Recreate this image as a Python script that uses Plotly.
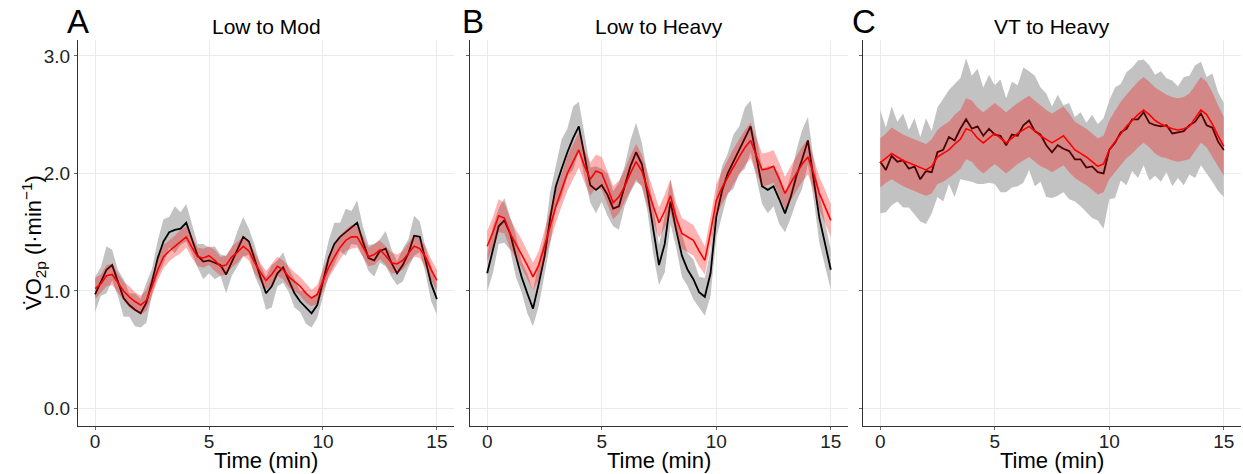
import plotly.graph_objects as go

# ---------------- data ----------------
time_min = [0.0, 0.25, 0.5, 0.75, 1.0, 1.25, 1.5, 1.75, 2.0, 2.25,
            2.5, 2.75, 3.0, 3.25, 3.5, 3.75, 4.0, 4.25, 4.5, 4.75,
            5.0, 5.25, 5.5, 5.75, 6.0, 6.25, 6.5, 6.75, 7.0, 7.25,
            7.5, 7.75, 8.0, 8.25, 8.5, 8.75, 9.0, 9.25, 9.5, 9.75,
            10.0, 10.25, 10.5, 10.75, 11.0, 11.25, 11.5, 11.75, 12.0, 12.25,
            12.5, 12.75, 13.0, 13.25, 13.5, 13.75, 14.0, 14.25, 14.5, 14.75,
            15.0]

# Panel A: Low to Mod
meas_A = [0.97, 1.08, 1.18, 1.22, 1.07, 0.94, 0.88, 0.84, 0.81, 0.90,
          1.08, 1.28, 1.42, 1.50, 1.52, 1.53, 1.58, 1.44, 1.30, 1.25,
          1.26, 1.24, 1.22, 1.14, 1.25, 1.36, 1.46, 1.42, 1.26, 1.12,
          0.98, 1.04, 1.15, 1.20, 1.09, 0.98, 0.91, 0.86, 0.81, 0.88,
          1.08, 1.28, 1.40, 1.46, 1.50, 1.54, 1.58, 1.42, 1.28, 1.26,
          1.34, 1.36, 1.24, 1.15, 1.22, 1.32, 1.47, 1.46, 1.26, 1.06,
          0.93]
meas_sd_A = [0.15, 0.12, 0.20, 0.13, 0.11, 0.16, 0.10, 0.14, 0.12, 0.17,
             0.11, 0.15, 0.19, 0.13, 0.20, 0.14, 0.16, 0.12, 0.10, 0.15,
             0.11, 0.14, 0.09, 0.16, 0.12, 0.15, 0.17, 0.11, 0.13, 0.10,
             0.14, 0.18, 0.11, 0.13, 0.10, 0.12, 0.09, 0.14, 0.12, 0.11,
             0.13, 0.15, 0.18, 0.12, 0.20, 0.14, 0.19, 0.13, 0.11, 0.14,
             0.10, 0.15, 0.12, 0.10, 0.14, 0.12, 0.17, 0.13, 0.11, 0.15,
             0.13]
model_A = [1.02, 1.06, 1.13, 1.14, 1.07, 1.00, 0.95, 0.91, 0.88, 0.92,
           1.04, 1.18, 1.29, 1.34, 1.38, 1.42, 1.46, 1.37, 1.29, 1.28,
           1.30, 1.26, 1.21, 1.22, 1.29, 1.33, 1.38, 1.34, 1.24, 1.16,
           1.09, 1.14, 1.21, 1.18, 1.12, 1.08, 1.04, 0.98, 0.94, 0.97,
           1.09, 1.20, 1.29, 1.37, 1.43, 1.46, 1.46, 1.38, 1.29, 1.31,
           1.35, 1.30, 1.24, 1.23, 1.26, 1.32, 1.38, 1.36, 1.29, 1.18,
           1.09]
model_sd_A = [0.09, 0.08, 0.09, 0.09, 0.08, 0.08, 0.09, 0.08, 0.08, 0.09,
              0.08, 0.09, 0.10, 0.09, 0.09, 0.10, 0.09, 0.09, 0.08, 0.08,
              0.08, 0.09, 0.08, 0.08, 0.09, 0.09, 0.08, 0.08, 0.09, 0.08,
              0.08, 0.09, 0.08, 0.08, 0.09, 0.08, 0.08, 0.08, 0.07, 0.08,
              0.09, 0.09, 0.10, 0.10, 0.09, 0.10, 0.09, 0.09, 0.08, 0.09,
              0.08, 0.08, 0.09, 0.08, 0.08, 0.09, 0.09, 0.08, 0.09, 0.09,
              0.09]

# Panel B: Low to Heavy
meas_B = [1.15, 1.35, 1.55, 1.60, 1.49, 1.30, 1.12, 0.98, 0.85, 1.06,
          1.29, 1.62, 1.89, 2.04, 2.18, 2.30, 2.40, 2.15, 1.90, 1.86,
          1.90, 1.82, 1.70, 1.72, 1.89, 2.06, 2.18, 2.08, 1.83, 1.52,
          1.22, 1.40, 1.76, 1.52, 1.30, 1.18, 1.10, 0.99, 0.95, 1.15,
          1.63, 1.85, 2.00, 2.10, 2.20, 2.30, 2.40, 2.14, 1.89, 1.86,
          1.89, 1.78, 1.66, 1.80, 1.98, 2.12, 2.28, 1.95, 1.62, 1.40,
          1.18]
meas_sd_B = [0.16, 0.20, 0.15, 0.19, 0.14, 0.18, 0.13, 0.17, 0.15, 0.19,
             0.16, 0.22, 0.18, 0.25, 0.20, 0.27, 0.21, 0.18, 0.15, 0.20,
             0.14, 0.18, 0.15, 0.20, 0.17, 0.22, 0.25, 0.18, 0.16, 0.21,
             0.17, 0.24, 0.19, 0.15, 0.18, 0.14, 0.17, 0.13, 0.16, 0.19,
             0.18, 0.21, 0.17, 0.23, 0.20, 0.26, 0.22, 0.18, 0.15, 0.20,
             0.17, 0.21, 0.16, 0.18, 0.22, 0.25, 0.20, 0.17, 0.21, 0.18,
             0.17]
model_B = [1.38, 1.50, 1.64, 1.62, 1.49, 1.40, 1.32, 1.22, 1.12, 1.22,
           1.38, 1.55, 1.72, 1.86, 2.00, 2.10, 2.20, 2.06, 1.95, 2.02,
           2.00, 1.88, 1.75, 1.80, 1.89, 2.00, 2.10, 2.02, 1.86, 1.72,
           1.58, 1.68, 1.81, 1.62, 1.49, 1.46, 1.43, 1.34, 1.26, 1.50,
           1.77, 1.88, 1.97, 2.06, 2.14, 2.22, 2.28, 2.15, 2.03, 2.04,
           2.06, 1.95, 1.83, 1.92, 2.00, 2.08, 2.14, 2.00, 1.83, 1.72,
           1.60]
model_sd_B = [0.13, 0.13, 0.14, 0.13, 0.13, 0.12, 0.12, 0.12, 0.12, 0.12,
              0.13, 0.13, 0.14, 0.14, 0.15, 0.15, 0.15, 0.14, 0.14, 0.14,
              0.14, 0.14, 0.14, 0.14, 0.14, 0.15, 0.15, 0.14, 0.14, 0.14,
              0.13, 0.14, 0.14, 0.13, 0.13, 0.13, 0.13, 0.13, 0.12, 0.13,
              0.14, 0.14, 0.15, 0.15, 0.15, 0.15, 0.15, 0.15, 0.14, 0.14,
              0.14, 0.14, 0.14, 0.14, 0.15, 0.15, 0.15, 0.14, 0.14, 0.14,
              0.14]

# Panel C: VT to Heavy
meas_C = [2.10, 2.03, 2.15, 2.10, 2.11, 2.04, 2.06, 1.95, 2.02, 2.01,
          2.18, 2.20, 2.31, 2.28, 2.38, 2.46, 2.38, 2.40, 2.32, 2.38,
          2.33, 2.32, 2.24, 2.33, 2.32, 2.41, 2.45, 2.36, 2.33, 2.24,
          2.18, 2.24, 2.21, 2.19, 2.12, 2.12, 2.05, 2.06, 2.01, 2.00,
          2.20, 2.26, 2.35, 2.38, 2.46, 2.46, 2.52, 2.43, 2.41, 2.40,
          2.41, 2.34, 2.35, 2.36, 2.41, 2.44, 2.51, 2.41, 2.39, 2.27,
          2.20]
meas_sd_C = [0.44, 0.36, 0.42, 0.34, 0.40, 0.33, 0.41, 0.36, 0.45, 0.35,
             0.38, 0.44, 0.40, 0.48, 0.43, 0.52, 0.45, 0.49, 0.41, 0.46,
             0.42, 0.48, 0.40, 0.45, 0.43, 0.49, 0.42, 0.47, 0.40, 0.44,
             0.39, 0.43, 0.37, 0.41, 0.36, 0.40, 0.38, 0.44, 0.41, 0.47,
             0.42, 0.47, 0.41, 0.48, 0.44, 0.50, 0.45, 0.49, 0.43, 0.47,
             0.40, 0.45, 0.39, 0.46, 0.42, 0.48, 0.44, 0.41, 0.46, 0.42,
             0.40]
model_C = [2.09, 2.13, 2.17, 2.14, 2.11, 2.09, 2.07, 2.05, 2.03, 2.06,
           2.14, 2.17, 2.20, 2.25, 2.29, 2.38, 2.36, 2.30, 2.26, 2.30,
           2.34, 2.30, 2.26, 2.30, 2.34, 2.37, 2.40, 2.36, 2.32, 2.29,
           2.26, 2.29, 2.32, 2.26, 2.20, 2.17, 2.14, 2.10, 2.06, 2.08,
           2.20, 2.27, 2.34, 2.40, 2.45, 2.50, 2.54, 2.50, 2.45, 2.42,
           2.40, 2.38, 2.37, 2.38, 2.40, 2.47, 2.54, 2.50, 2.42, 2.32,
           2.23]
model_sd_C = [0.21, 0.21, 0.22, 0.22, 0.22, 0.22, 0.22, 0.22, 0.22, 0.23,
              0.23, 0.24, 0.24, 0.25, 0.25, 0.26, 0.26, 0.26, 0.26, 0.26,
              0.26, 0.26, 0.26, 0.26, 0.26, 0.26, 0.26, 0.26, 0.26, 0.25,
              0.25, 0.25, 0.25, 0.25, 0.24, 0.24, 0.24, 0.24, 0.24, 0.24,
              0.25, 0.26, 0.27, 0.27, 0.28, 0.28, 0.28, 0.28, 0.28, 0.28,
              0.27, 0.27, 0.27, 0.27, 0.28, 0.28, 0.28, 0.28, 0.27, 0.26,
              0.25]

panel_letters = ["A", "B", "C"]
panel_titles = ["Low to Mod", "Low to Heavy", "VT to Heavy"]
x_ticks = [0, 5, 10, 15]
y_ticks = [0, 1, 2, 3]
y_tick_labels = ["0.0", "1.0", "2.0", "3.0"]

# ---------------- figure ----------------
W, H = 1243, 474
FONT = "Liberation Sans, Arial, sans-serif"
panel_px = [(78, 454), (470, 848), (863, 1241)]
plot_top, plot_bottom = 40, 426

panels = [
    (meas_A, meas_sd_A, model_A, model_sd_A),
    (meas_B, meas_sd_B, model_B, model_sd_B),
    (meas_C, meas_sd_C, model_C, model_sd_C),
]

fig = go.Figure()
for k, (meas, msd, mod, modsd) in enumerate(panels):
    xa = "x" if k == 0 else f"x{k+1}"
    ya = "y" if k == 0 else f"y{k+1}"
    band_x = time_min + time_min[::-1]
    g_up = [m + s for m, s in zip(meas, msd)]
    g_lo = [m - s for m, s in zip(meas, msd)]
    fig.add_trace(go.Scatter(x=band_x, y=g_up + g_lo[::-1], fill="toself",
                             fillcolor="#c2c2c2", mode="lines", line=dict(width=0),
                             hoverinfo="skip", showlegend=False, xaxis=xa, yaxis=ya))
    fig.add_trace(go.Scatter(x=time_min, y=meas, mode="lines",
                             line=dict(color="#000000", width=1.8),
                             showlegend=False, xaxis=xa, yaxis=ya))
    r_up = [m + s for m, s in zip(mod, modsd)]
    r_lo = [m - s for m, s in zip(mod, modsd)]
    fig.add_trace(go.Scatter(x=band_x, y=r_up + r_lo[::-1], fill="toself",
                             fillcolor="rgba(255,0,0,0.30)", mode="lines", line=dict(width=0),
                             hoverinfo="skip", showlegend=False, xaxis=xa, yaxis=ya))
    fig.add_trace(go.Scatter(x=time_min, y=mod, mode="lines",
                             line=dict(color="#ff0000", width=1.6),
                             showlegend=False, xaxis=xa, yaxis=ya))

layout = dict(
    width=W, height=H,
    margin=dict(l=0, r=0, t=0, b=0),
    paper_bgcolor="white", plot_bgcolor="white",
    font=dict(family=FONT, color="#222222"),
    showlegend=False,
)
ydom = [1 - plot_bottom / H, 1 - plot_top / H]
for k, (x0, x1) in enumerate(panel_px):
    xname = "xaxis" if k == 0 else f"xaxis{k+1}"
    yname = "yaxis" if k == 0 else f"yaxis{k+1}"
    yref = "y" if k == 0 else f"y{k+1}"
    xref = "x" if k == 0 else f"x{k+1}"
    layout[xname] = dict(domain=[x0 / W, x1 / W], anchor=yref, range=[-0.75, 15.75],
                         tickvals=x_ticks, showline=True, linecolor="#333333", linewidth=1.2,
                         ticks="outside", ticklen=3, tickcolor="#666666",
                         ticklabelstandoff=-5,
                         showgrid=True, gridcolor="#ebebeb", gridwidth=1, zeroline=False,
                         tickfont=dict(size=19, color="#222222", family=FONT))
    layout[yname] = dict(domain=ydom, anchor=xref, range=[-0.149, 3.135],
                         tickvals=y_ticks, ticktext=y_tick_labels,
                         showticklabels=(k == 0),
                         showline=True, linecolor="#333333", linewidth=1.2,
                         ticks="outside", ticklen=3, tickcolor="#666666",
                         showgrid=True, gridcolor="#ebebeb", gridwidth=1, zeroline=False,
                         tickfont=dict(size=19, color="#222222", family=FONT))

annotations = []
letter_x = [78, 473, 864]
for k, (x0, x1) in enumerate(panel_px):
    cx = (x0 + x1) / 2 / W
    annotations.append(dict(text=panel_titles[k], x=cx, y=1 - 27 / H, xref="paper", yref="paper",
                            xanchor="center", yanchor="middle", showarrow=False,
                            font=dict(size=21, color="#000000", family=FONT)))
    annotations.append(dict(text="Time (min)", x=cx, y=1 - 460 / H, xref="paper", yref="paper",
                            xanchor="center", yanchor="middle", showarrow=False,
                            font=dict(size=22, color="#000000", family=FONT)))
    annotations.append(dict(text=panel_letters[k], x=letter_x[k] / W, y=1 - 22 / H,
                            xref="paper", yref="paper", xanchor="center", yanchor="middle",
                            showarrow=False, font=dict(size=33, color="#000000", family=FONT)))
annotations.append(dict(text="V\u0307O<sub>2p</sub> (l\u00b7min<sup>\u22121</sup>)",
                        x=34 / W, y=1 - 243 / H, xref="paper", yref="paper",
                        xanchor="center", yanchor="middle", textangle=-90, showarrow=False,
                        font=dict(size=22, color="#000000", family=FONT)))
layout["annotations"] = annotations
fig.update_layout(**layout)

fig.write_html("out.html")
